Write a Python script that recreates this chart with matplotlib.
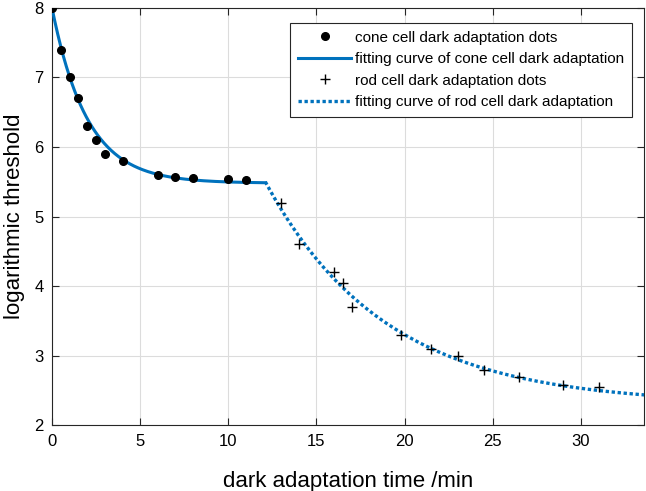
import numpy as np
import matplotlib
matplotlib.use("Agg")
import matplotlib.pyplot as plt

plt.rcParams['font.family'] = ['Liberation Sans', 'DejaVu Sans']

# cone cell data
cone_t = [0, 0.5, 1, 1.5, 2, 2.5, 3, 4, 6, 7, 8, 10, 11]
cone_y = [8.0, 7.4, 7.0, 6.7, 6.3, 6.1, 5.9, 5.8, 5.6, 5.57, 5.55, 5.54, 5.52]
# rod cell data
rod_t = [13, 14, 16, 16.5, 17, 19.8, 21.5, 23, 24.5, 26.5, 29, 31]
rod_y = [5.19, 4.6, 4.2, 4.05, 3.7, 3.3, 3.1, 3.0, 2.8, 2.7, 2.58, 2.55]

# fitted exponential models y = a + b*exp(-c*(t - t0))
cone_fit = dict(a=5.48, b=2.52, c=0.50, t0=0.0, t_start=0.0, t_end=12.1)
rod_fit = dict(a=2.30, b=3.20, c=0.147, t0=12.1, t_start=12.1, t_end=33.6)

labels = ['cone cell dark adaptation dots',
          'fitting curve of cone cell dark adaptation',
          'rod cell dark adaptation dots',
          'fitting curve of rod cell dark adaptation']

blue = '#0072BD'
axc = '#262626'

def fit_curve(p):
    t = np.linspace(p['t_start'], p['t_end'], 300)
    return t, p['a'] + p['b'] * np.exp(-p['c'] * (t - p['t0']))

fig = plt.figure(figsize=(6.46, 4.91), dpi=100)
ax = fig.add_axes([0.0805, 0.134, 0.917, 0.850])

ct, cy = fit_curve(cone_fit)
rt, ry = fit_curve(rod_fit)

ax.plot(cone_t, cone_y, 'o', color='black', markersize=5.5, label=labels[0], zorder=4)
ax.plot(ct, cy, '-', color=blue, linewidth=2.2, label=labels[1], zorder=3)
ax.plot(rod_t, rod_y, '+', color='black', markersize=7, markeredgewidth=1.0, label=labels[2], zorder=4)
ax.plot(rt, ry, linestyle=(0, (1, 0.8)), color=blue, linewidth=2.4, label=labels[3], zorder=3)

ax.set_xlim(0, 33.6)
ax.set_ylim(2, 8)
ax.set_xticks([0, 5, 10, 15, 20, 25, 30])
ax.set_yticks([2, 3, 4, 5, 6, 7, 8])
ax.grid(True, color='#dcdcdc', linewidth=0.8)
ax.set_axisbelow(True)
for s in ax.spines.values():
    s.set_color(axc)
    s.set_linewidth(0.8)
ax.tick_params(direction='in', top=True, right=True, length=5, width=0.8,
               colors=axc, labelsize=12, labelcolor='black', pad=6)
ax.set_xlabel('dark adaptation time /min', fontsize=16, labelpad=16)
ax.set_ylabel('logarithmic threshold', fontsize=16, labelpad=7)

leg = ax.legend(loc='upper right', bbox_to_anchor=(0.979, 0.964), fontsize=11,
                handlelength=3.5, handletextpad=0.25, borderpad=0.5,
                labelspacing=0.5, fancybox=False, framealpha=1,
                edgecolor=axc, borderaxespad=0)
leg.get_frame().set_linewidth(0.8)

fig.savefig('out.png', dpi=100)
